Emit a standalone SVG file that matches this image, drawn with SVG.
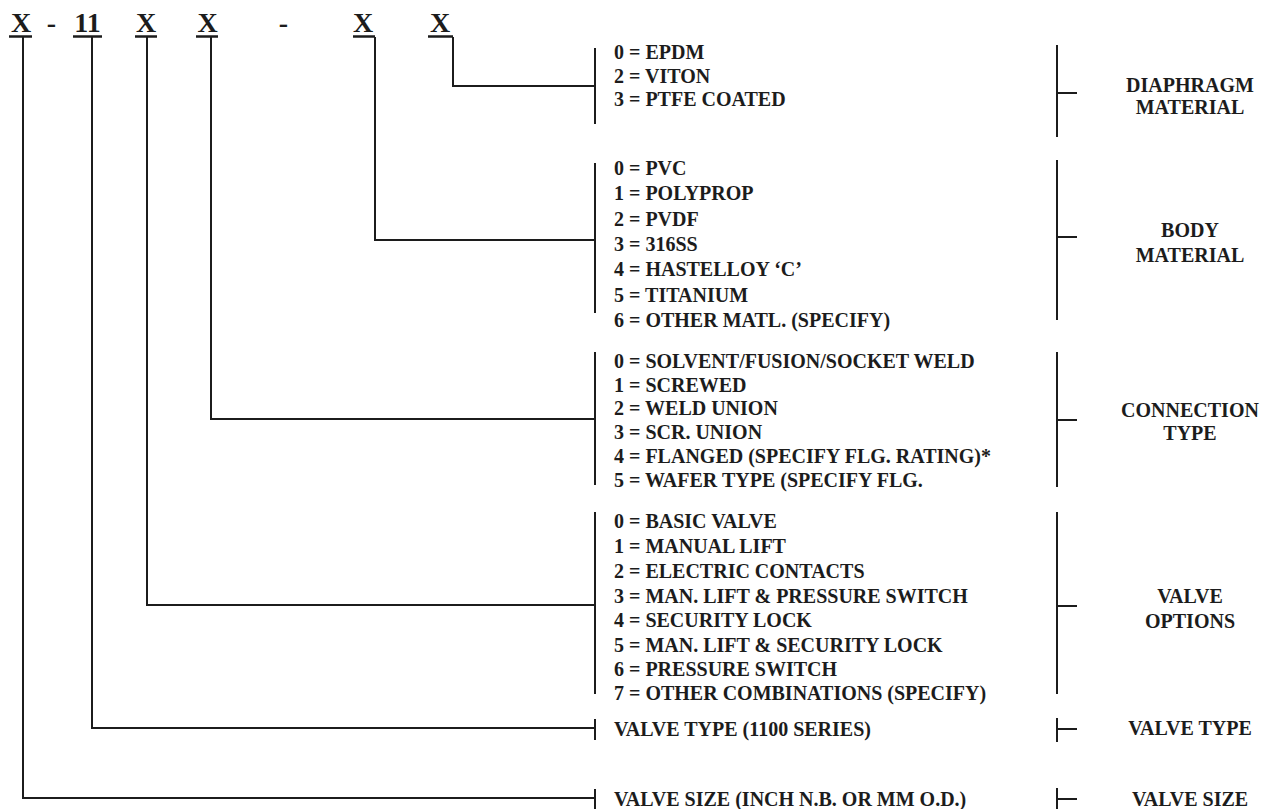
<svg xmlns="http://www.w3.org/2000/svg" width="1273" height="809" viewBox="0 0 1273 809">
<style>
  text { font-family: "Liberation Serif", "Times New Roman", serif; font-weight: bold; fill: #1c1c1c; }
  .hdr { font-size: 28px; text-anchor: middle; }
  .item { font-size: 20px; }
  .lbl { font-size: 20px; text-anchor: middle; }
  .ln { fill: none; stroke: #1c1c1c; stroke-width: 2; }
  .ul { fill: none; stroke: #1c1c1c; stroke-width: 2.6; }
</style>
<rect width="1273" height="809" fill="#ffffff"/>

<g id="header">
  <text class="hdr" x="21" y="31.5">X</text>
  <text class="hdr" x="51.5" y="31.5">-</text>
  <text class="hdr" x="87.5" y="31.5">11</text>
  <text class="hdr" x="146" y="31.5">X</text>
  <text class="hdr" x="207.5" y="31.5">X</text>
  <text class="hdr" x="283.5" y="31.5">-</text>
  <text class="hdr" x="363" y="31.5">X</text>
  <text class="hdr" x="440" y="31.5">X</text>
  <path class="ul" d="M9,36.5H32 M73,36.5H102 M135,36.5H157 M196,36.5H218 M353,36.5H375 M428,36.5H453"/>
</g>

<g id="connectors">
  <path class="ln" d="M453,37V86H595"/>
  <path class="ln" d="M375,37V240H595"/>
  <path class="ln" d="M211,37V419H595"/>
  <path class="ln" d="M147,37V605H595"/>
  <path class="ln" d="M92,37V728H595"/>
  <path class="ln" d="M23,37V798H595"/>
</g>

<g id="diaphragm-material">
  <path class="ln" d="M595,48V124 M1057,45V137 M1057,93H1077"/>
  <text class="item" x="614" y="59">0 = EPDM</text>
  <text class="item" x="614" y="83">2 = VITON</text>
  <text class="item" x="614" y="106">3 = PTFE COATED</text>
  <text class="lbl" x="1190" y="92">DIAPHRAGM</text>
  <text class="lbl" x="1190" y="114">MATERIAL</text>
</g>

<g id="body-material">
  <path class="ln" d="M595,163V313 M1057,160V320 M1057,237H1077"/>
  <text class="item" x="614" y="175">0 = PVC</text>
  <text class="item" x="614" y="200">1 = POLYPROP</text>
  <text class="item" x="614" y="226">2 = PVDF</text>
  <text class="item" x="614" y="251">3 = 316SS</text>
  <text class="item" x="614" y="276">4 = HASTELLOY ‘C’</text>
  <text class="item" x="614" y="302">5 = TITANIUM</text>
  <text class="item" x="614" y="327">6 = OTHER MATL. (SPECIFY)</text>
  <text class="lbl" x="1190" y="237">BODY</text>
  <text class="lbl" x="1190" y="262">MATERIAL</text>
</g>

<g id="connection-type">
  <path class="ln" d="M595,352V485 M1057,352V487 M1057,420H1077"/>
  <text class="item" x="614" y="368">0 = SOLVENT/FUSION/SOCKET WELD</text>
  <text class="item" x="614" y="392">1 = SCREWED</text>
  <text class="item" x="614" y="415">2 = WELD UNION</text>
  <text class="item" x="614" y="439">3 = SCR. UNION</text>
  <text class="item" x="614" y="463">4 = FLANGED (SPECIFY FLG. RATING)*</text>
  <text class="item" x="614" y="487">5 = WAFER TYPE (SPECIFY FLG.</text>
  <text class="lbl" x="1190" y="417">CONNECTION</text>
  <text class="lbl" x="1190" y="440">TYPE</text>
</g>

<g id="valve-options">
  <path class="ln" d="M595,512V694 M1057,512V694 M1057,606H1077"/>
  <text class="item" x="614" y="528">0 = BASIC VALVE</text>
  <text class="item" x="614" y="553">1 = MANUAL LIFT</text>
  <text class="item" x="614" y="578">2 = ELECTRIC CONTACTS</text>
  <text class="item" x="614" y="603">3 = MAN. LIFT &amp; PRESSURE SWITCH</text>
  <text class="item" x="614" y="627">4 = SECURITY LOCK</text>
  <text class="item" x="614" y="652">5 = MAN. LIFT &amp; SECURITY LOCK</text>
  <text class="item" x="614" y="676">6 = PRESSURE SWITCH</text>
  <text class="item" x="614" y="700">7 = OTHER COMBINATIONS (SPECIFY)</text>
  <text class="lbl" x="1190" y="603">VALVE</text>
  <text class="lbl" x="1190" y="628">OPTIONS</text>
</g>

<g id="valve-type">
  <path class="ln" d="M595,719V740 M1057,718V742 M1057,729H1077"/>
  <text class="item" x="614" y="736">VALVE TYPE (1100 SERIES)</text>
  <text class="lbl" x="1190" y="735">VALVE TYPE</text>
</g>

<g id="valve-size">
  <path class="ln" d="M595,789V809 M1057,788V809 M1057,799H1077"/>
  <text class="item" x="614" y="806">VALVE SIZE (INCH N.B. OR MM O.D.)</text>
  <text class="lbl" x="1190" y="806">VALVE SIZE</text>
</g>
</svg>
